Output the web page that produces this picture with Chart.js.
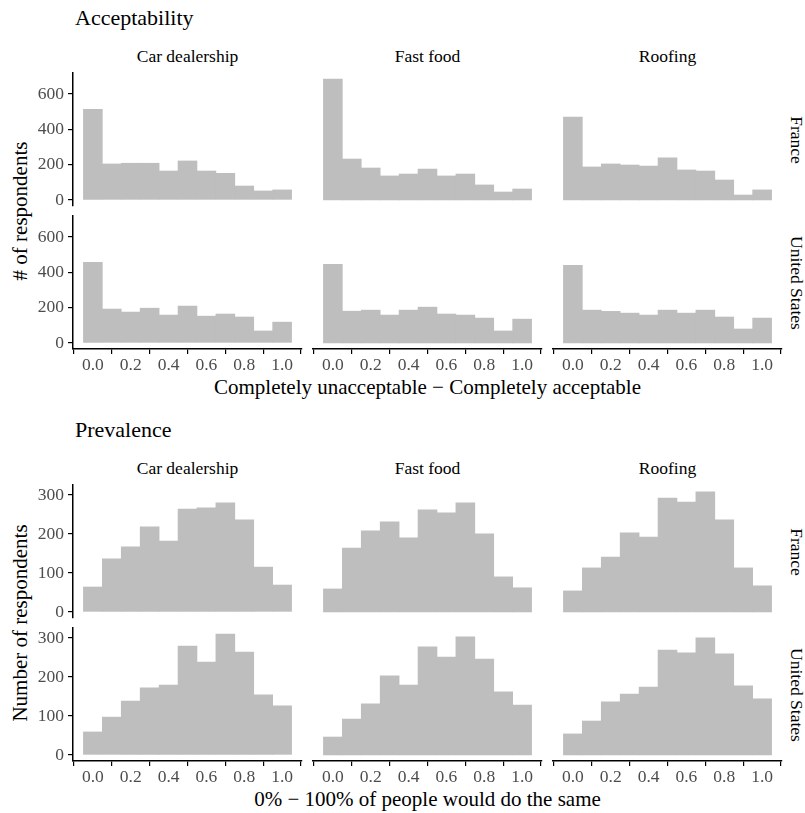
<!DOCTYPE html>
<html>
<head>
<meta charset="utf-8">
<script src="https://cdn.jsdelivr.net/npm/chart.js@4.4.0/dist/chart.umd.min.js"></script>
<style>
    body { margin: 0; width: 805px; height: 813px; position: relative; overflow: hidden; background: #fff;
           font-family: 'Liberation Serif', 'DejaVu Serif', serif; }
    .txt { position: absolute; white-space: nowrap; color: #000; line-height: 1; }
    canvas { position: absolute; }
</style>
</head>
<body>
<script>
// Histogram bins (bar centres) and tick labels
const bins = [0.0, 0.1, 0.2, 0.3, 0.4, 0.5, 0.6, 0.7, 0.8, 0.9, 1.0];
const xTicks = [0.0, 0.2, 0.4, 0.6, 0.8, 1.0];
const industries = ['Car dealership', 'Fast food', 'Roofing'];
const countries = ['France', 'United States'];

const accYTicks = [0, 200, 400, 600];
const prevYTicks = [0, 100, 200, 300];

// Acceptability counts
const accCarFR  = [513, 204, 208, 208, 164, 221, 164, 151, 79, 51, 57];
const accFastFR = [685, 232, 181, 136, 147, 175, 136, 147, 85, 45, 62];
const accRoofFR = [470, 187, 204, 198, 192, 238, 170, 164, 113, 28, 57];
const accCarUS  = [457, 192, 175, 197, 158, 209, 152, 164, 147, 68, 118];
const accFastUS = [446, 180, 186, 158, 186, 203, 164, 158, 141, 68, 135];
const accRoofUS = [440, 186, 179, 169, 158, 186, 169, 186, 147, 79, 141];

// Prevalence counts
const prevCarFR  = [64, 136, 167, 218, 182, 264, 267, 280, 236, 115, 69];
const prevFastFR = [59, 164, 208, 231, 190, 262, 254, 280, 200, 90, 62];
const prevRoofFR = [54, 113, 141, 203, 192, 292, 282, 308, 236, 113, 67];
const prevCarUS  = [59, 97, 138, 172, 179, 279, 238, 310, 264, 154, 126];
const prevFastUS = [46, 92, 131, 203, 179, 277, 251, 303, 246, 162, 128];
const prevRoofUS = [54, 87, 136, 156, 174, 269, 262, 300, 259, 177, 144];

// Layout
const FONT = "'Liberation Serif', 'DejaVu Serif', serif";
const colLeft = [73, 313, 553];
const panelW = 229;
const panelH = 133;
const M = 12;    // spare canvas margin so edge labels are not clipped
const YW = 60;   // y axis width for left column
const XH = 34;   // x axis height for bottom row
const TICK_SIZE = 17.5;

const sections = [
    {
        title: 'Acceptability', titleY: 18, rowTops: [73, 216],
        yTitle: '# of respondents',
        xTitle: 'Completely unacceptable \u2212 Completely acceptable',
        yTicks: accYTicks,
        rows: [[accCarFR, accFastFR, accRoofFR], [accCarUS, accFastUS, accRoofUS]]
    },
    {
        title: 'Prevalence', titleY: 430, rowTops: [485, 628],
        yTitle: 'Number of respondents',
        xTitle: '0% \u2212 100% of people would do the same',
        yTicks: prevYTicks,
        rows: [[prevCarFR, prevFastFR, prevRoofFR], [prevCarUS, prevFastUS, prevRoofUS]]
    }
];

function addText(text, x, y, size, opts = {}) {
    const d = document.createElement('div');
    d.className = 'txt';
    d.textContent = text;
    d.style.fontSize = size + 'px';
    d.style.left = x + 'px';
    d.style.top = y + 'px';
    let tf = opts.left ? 'translate(0,-50%)' : 'translate(-50%,-50%)';
    if (opts.rotate) tf += ' rotate(' + opts.rotate + 'deg)';
    d.style.transform = tf;
    document.body.appendChild(d);
}

function makePanel(values, sec, yMax, left, top, showY, showX) {
    const cv = document.createElement('canvas');
    cv.width = panelW + (showY ? YW : 0) + 2 * M;
    cv.height = panelH + (showX ? XH : 0) + 2 * M;
    cv.style.left = (left - (showY ? YW : 0) - M) + 'px';
    cv.style.top = (top - M) + 'px';
    document.body.appendChild(cv);

    const axisCommon = {
        grid: { display: true, drawOnChartArea: false, drawTicks: true, tickLength: 5, color: '#000', lineWidth: 1.2 },
        border: { display: true, color: '#000', width: 1.5 },
    };

    new Chart(cv, {
        type: 'bar',
        data: {
            datasets: [{
                data: bins.map((b, i) => ({ x: b, y: values[i] })),
                backgroundColor: '#bebebe',
                borderWidth: 0,
                barPercentage: 1,
                categoryPercentage: 1
            }]
        },
        options: {
            responsive: false,
            animation: false,
            layout: { padding: M },
            plugins: { legend: { display: false }, tooltip: { enabled: false } },
            scales: {
                x: {
                    ...axisCommon,
                    type: 'linear',
                    offset: false,
                    min: -0.105,
                    max: 1.105,
                    display: showX,
                    afterBuildTicks: s => { s.ticks = xTicks.map(v => ({ value: v })); },
                    afterFit: s => {
                        s.height = showX ? XH : 0;
                        s.paddingLeft = 0; s.paddingRight = 0;
                    },
                    ticks: {
                        color: '#4d4d4d', padding: 1, maxRotation: 0, autoSkip: false,
                        font: { family: FONT, size: TICK_SIZE },
                        callback: v => Number(v).toFixed(1)
                    }
                },
                y: {
                    ...axisCommon,
                    type: 'linear',
                    min: -0.05 * yMax,
                    max: 1.05 * yMax,
                    display: showY,
                    afterBuildTicks: s => { s.ticks = sec.yTicks.map(v => ({ value: v })); },
                    afterFit: s => {
                        s.width = showY ? YW : 0;
                        s.paddingTop = 0; s.paddingBottom = 0;
                    },
                    ticks: {
                        color: '#4d4d4d', padding: 4, autoSkip: false,
                        font: { family: FONT, size: TICK_SIZE }
                    }
                }
            }
        }
    });
}

sections.forEach(sec => {
    const yMax = Math.max(...sec.rows.flat(2));
    const bottom = sec.rowTops[1] + panelH;

    addText(sec.title, 75, sec.titleY, 22, { left: true });
    industries.forEach((name, c) => {
        addText(name, colLeft[c] + panelW / 2, sec.rowTops[0] - 16, TICK_SIZE);
    });
    countries.forEach((name, r) => {
        addText(name, 796, sec.rowTops[r] + panelH / 2, TICK_SIZE, { rotate: 90 });
    });
    addText(sec.yTitle, 20, (sec.rowTops[0] + bottom) / 2, 21, { rotate: -90 });
    addText(sec.xTitle, colLeft[0] + (colLeft[2] + panelW - colLeft[0]) / 2, bottom + 38, 21);

    sec.rows.forEach((row, r) => {
        row.forEach((values, c) => {
            makePanel(values, sec, yMax, colLeft[c], sec.rowTops[r], c === 0, r === 1);
        });
    });
});
</script>
</body>
</html>
